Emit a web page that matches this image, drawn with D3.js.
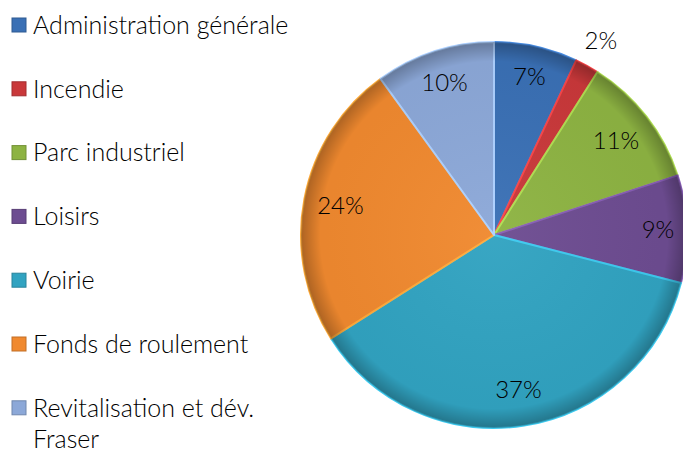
<!DOCTYPE html>
<html>
<head>
<meta charset="utf-8">
<script src="https://cdn.jsdelivr.net/npm/d3@7"></script>
<style>
  body { margin: 0; background: #fff; }
  svg text { font-family: Lato, sans-serif; font-weight: 300; fill: #000; }
</style>
</head>
<body>
<svg id="chart" width="683" height="452"></svg>
<script>
// chart data
var categories = ["Administration générale", "Incendie", "Parc industriel", "Loisirs",
                  "Voirie", "Fonds de roulement", "Revitalisation et dév. Fraser"];
var values = [7, 2, 11, 9, 37, 24, 10];
var colors = ["#3a70b5", "#c9383a", "#8db342", "#6d4c91", "#31a3c1", "#f0892f", "#8ca8d8"];

var svg = d3.select("#chart");
var cx = 494, cy = 235, r = 193;

// soft dark rim, a bit like the bevel in the original
var defs = svg.append("defs");
var shade = defs.append("radialGradient").attr("id", "shade")
  .attr("gradientUnits", "userSpaceOnUse")
  .attr("cx", 0).attr("cy", 0).attr("r", r);
shade.append("stop").attr("offset", "0%").attr("stop-color", "#fff").attr("stop-opacity", 0.04);
shade.append("stop").attr("offset", "90%").attr("stop-color", "#000").attr("stop-opacity", 0.03);
shade.append("stop").attr("offset", "100%").attr("stop-color", "#000").attr("stop-opacity", 0.28);

var pie = d3.pie().sort(null).value(d => d);
var arc = d3.arc().innerRadius(0).outerRadius(r);
var arcs = pie(values);

var g = svg.append("g").attr("transform", "translate(" + cx + "," + cy + ")");

g.selectAll("path.slice")
  .data(arcs)
  .enter()
  .append("path")
  .attr("class", "slice")
  .attr("d", arc)
  .attr("fill", (d, i) => colors[i])
  .attr("stroke", (d, i) => d3.color(colors[i]).brighter(0.6))
  .attr("stroke-width", 2)
  .attr("stroke-linejoin", "round");

g.selectAll("path.shade")
  .data(arcs)
  .enter()
  .append("path")
  .attr("class", "shade")
  .attr("d", arc)
  .attr("fill", "url(#shade)");

// labels
var labelK = [0.84, 1.15, 0.8, 0.85, 0.81, 0.81, 0.83];
g.selectAll("text.lbl")
  .data(arcs)
  .enter()
  .append("text")
  .attr("class", "lbl")
  .attr("transform", function(d, i) {
    var k = labelK[i];
    var c = d3.arc().innerRadius(r * k).outerRadius(r * k).centroid(d);
    return "translate(" + c + ")";
  })
  .attr("text-anchor", "middle")
  .attr("dy", "0.35em")
  .style("font-size", "24px")
  .text(d => d.data + "%");

// legend
var legend = svg.append("g");
var rows = legend.selectAll("g")
  .data(categories)
  .enter()
  .append("g")
  .attr("transform", (d, i) => "translate(12," + (25 + i * 63.8) + ")");

rows.append("rect")
  .attr("x", 0).attr("y", -7).attr("width", 14).attr("height", 14)
  .attr("fill", (d, i) => colors[i])
  .attr("stroke", (d, i) => d3.color(colors[i]).darker(0.6))
  .attr("stroke-width", 1);

rows.append("text")
  .style("font-size", "25px")
  .each(function(d) {
    var t = d3.select(this);
    var parts = d === "Revitalisation et dév. Fraser" ? ["Revitalisation et dév.", "Fraser"] : [d];
    parts.forEach(function(p, j) {
      t.append("tspan").attr("x", 21).attr("dy", j === 0 ? "0.35em" : "1.25em").text(p);
    });
  });
</script>
</body>
</html>
